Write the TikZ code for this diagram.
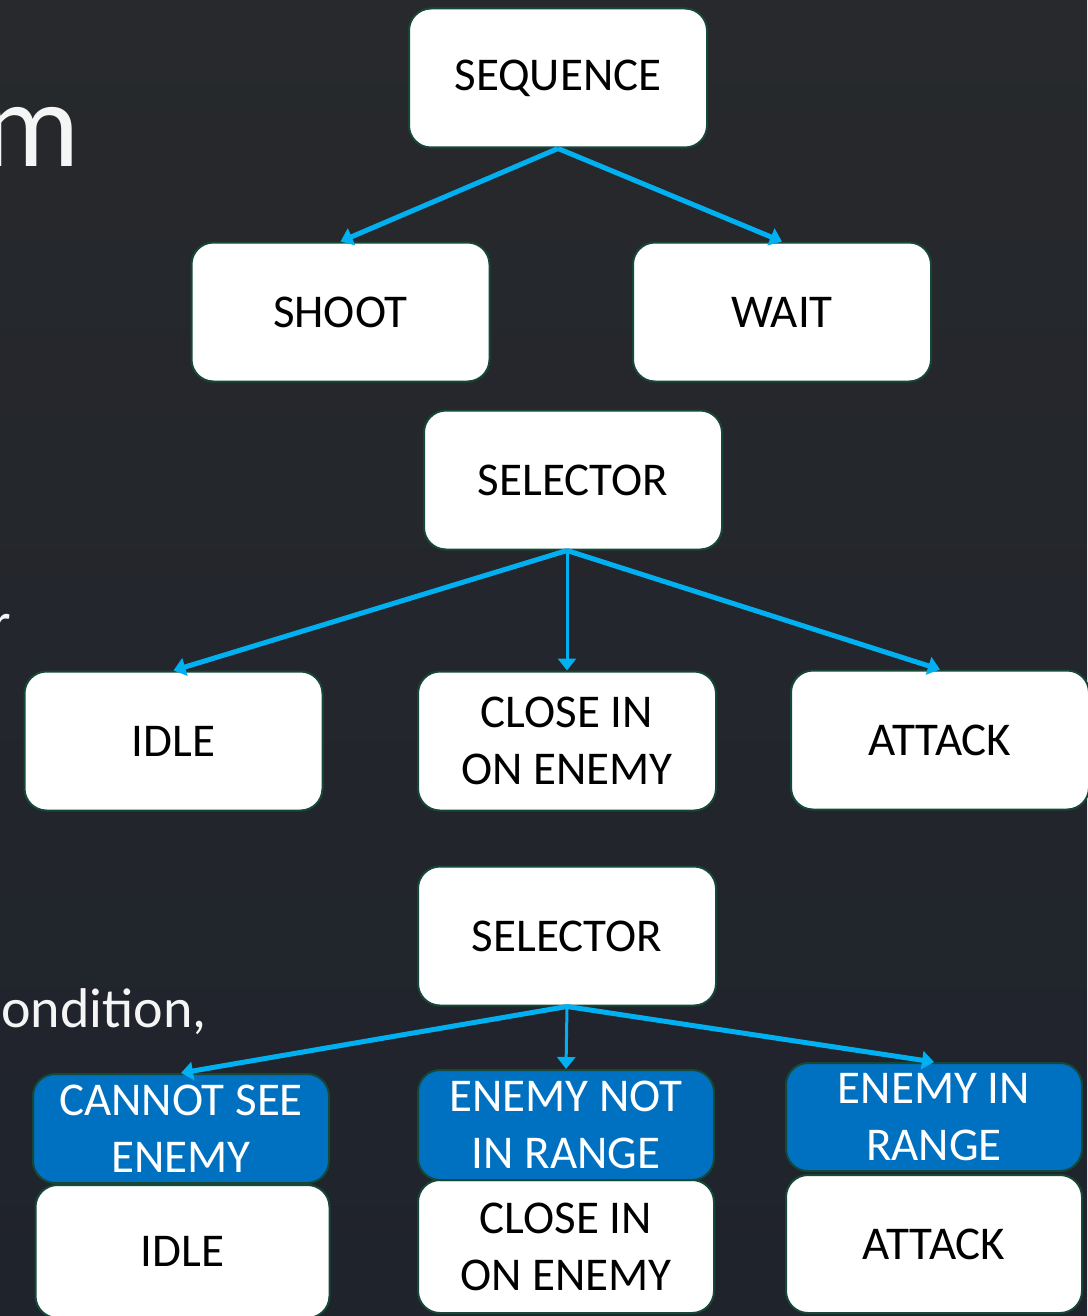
\documentclass[tikz,border=0pt]{standalone}
\usepackage{fontspec}
\setmainfont{Carlito}
\newfontfamily\boxfont{Carlito}
\usetikzlibrary{arrows.meta}
\definecolor{bgtop}{RGB}{39,41,44}
\definecolor{bgbottom}{RGB}{31,35,44}
\definecolor{boxedge}{RGB}{22,72,56}
\definecolor{condblue}{RGB}{0,112,192}
\definecolor{linkblue}{RGB}{0,176,240}
\definecolor{slidetext}{RGB}{245,245,245}
\tikzset{
  box/.style={draw=boxedge, line width=2pt, fill=white, rounded corners=22pt,
    minimum width=298pt, minimum height=139pt, inner sep=0pt, align=center,
    text=black, font=\boxfont\fontsize{47}{57}\selectfont},
  cond/.style={box, fill=condblue, text=white, minimum height=109pt},
  link/.style={draw=linkblue, line width=5pt, -{Triangle[width=18pt,length=12pt]}},
  thinlink/.style={link, line width=3pt},
  slide/.style={inner sep=0pt, text=slidetext}
}
\begin{document}
\begin{tikzpicture}[x=1pt, y=-1pt]
  \useasboundingbox (0,0) rectangle (1087,1316);
  \fill[top color=bgtop, bottom color=bgbottom] (0,0) rectangle (1087,1316);

  % slide text running in from the left edge
  \node[slide, anchor=base east, font=\fontsize{122}{130}\selectfont] (title) at (80,167) {m};
  \node[slide, anchor=base west, font=\fontsize{56}{66}\selectfont] (lineR) at (-9,641) {r};
  \node[slide, anchor=base east, font=\fontsize{56}{66}\selectfont] (lineCond) at (207,1027) {ondition,};

  % sequence tree
  \node[box] (seq) at (558,78) {SEQUENCE};
  \node[box] (shoot) at (340.5,312) {SHOOT};
  \node[box] (wait) at (782,312) {WAIT};

  % selector tree
  \node[box] (sel1) at (573,480) {SELECTOR};
  \node[box] (idle1) at (173.5,741) {IDLE};
  \node[box] (close1) at (567,741) {CLOSE IN\\ON ENEMY};
  \node[box] (attack1) at (940,740) {ATTACK};

  % selector with conditions
  \node[box] (sel2) at (567,936) {SELECTOR};
  \node[box, minimum width=294pt, minimum height=133pt] (idle2) at (182.5,1251.5) {IDLE};
  \node[box, minimum width=296pt, minimum height=133pt] (close2) at (566,1246.5) {CLOSE IN\\ON ENEMY};
  \node[box, minimum width=296pt, minimum height=138pt] (attack2) at (934,1244) {ATTACK};
  \node[cond, minimum width=296pt] (cansee) at (181,1128.5) {CANNOT SEE\\ENEMY};
  \node[cond, minimum width=296pt, minimum height=110pt] (notrange) at (566,1125) {ENEMY NOT\\IN RANGE};
  \node[cond, minimum width=296pt, minimum height=108pt] (inrange) at (934,1117) {ENEMY IN\\RANGE};

  % connectors
  \draw[link] (seq.south) -- (shoot.north);
  \draw[link] (seq.south) -- (wait.north);

  \draw[link] (close1.north |- sel1.south) -- (idle1.north);
  \draw[thinlink] (close1.north |- sel1.south) -- (close1.north);
  \draw[link] (close1.north |- sel1.south) -- (attack1.north);

  \draw[link] (sel2.south) -- (cansee.north);
  \draw[thinlink] (sel2.south) -- (notrange.north);
  \draw[link] (sel2.south) -- (inrange.north);
\end{tikzpicture}
\end{document}
